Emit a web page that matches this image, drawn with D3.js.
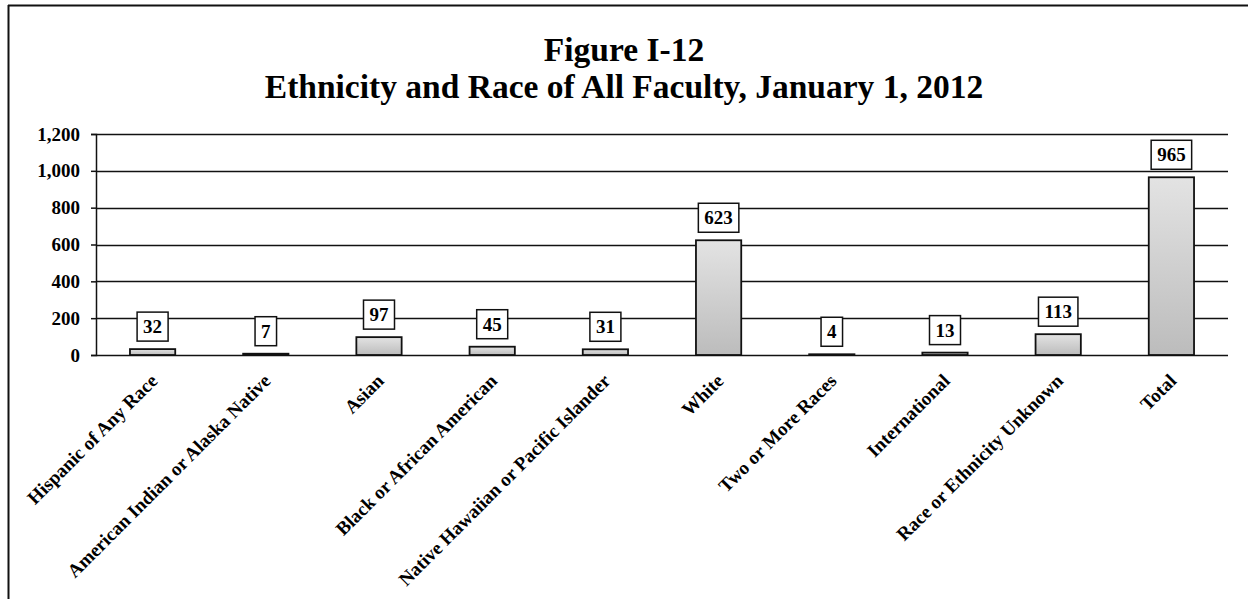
<!DOCTYPE html>
<html>
<head>
<meta charset="utf-8">
<script src="https://cdn.jsdelivr.net/npm/d3@7"></script>
<style>
  html, body { margin: 0; padding: 0; background: #fff; }
  svg { display: block; }
  text { font-family: "Liberation Serif", "Times New Roman", serif; font-weight: bold; fill: #000; }
</style>
</head>
<body>
<svg id="chart" width="1248" height="599"></svg>
<script>
const categories = [
  "Hispanic of Any Race",
  "American Indian or Alaska Native",
  "Asian",
  "Black or African American",
  "Native Hawaiian or Pacific Islander",
  "White",
  "Two or More Races",
  "International",
  "Race or Ethnicity Unknown",
  "Total"
];
const values = [32, 7, 97, 45, 31, 623, 4, 13, 113, 965];
const yTicks = [0, 200, 400, 600, 800, 1000, 1200];
const titleLines = ["Figure I-12", "Ethnicity and Race of All Faculty, January 1, 2012"];

const svg = d3.select("#chart");
const W = 1248, H = 599;
const plot = { left: 96, right: 1228, top: 134, bottom: 355 };

// frame (top and left only visible)
svg.append("line").attr("x1", 8).attr("x2", W).attr("y1", 5.5).attr("y2", 5.5)
  .attr("stroke", "#111").attr("stroke-width", 2);
svg.append("line").attr("x1", 8.5).attr("x2", 8.5).attr("y1", 5).attr("y2", H)
  .attr("stroke", "#111").attr("stroke-width", 2);

// title
svg.append("text").attr("x", 624).attr("y", 61).attr("text-anchor", "middle")
  .style("font-size", "33.5px").text(titleLines[0]);
svg.append("text").attr("x", 624).attr("y", 98).attr("text-anchor", "middle")
  .style("font-size", "33.5px").text(titleLines[1]);

const x = d3.scaleBand().domain(categories).range([plot.left, plot.right]).paddingInner(0.6).paddingOuter(0.3);
const y = d3.scaleLinear().domain([0, 1200]).range([plot.bottom, plot.top]);

// gradient
const defs = svg.append("defs");
const grad = defs.append("linearGradient").attr("id", "barGrad")
  .attr("x1", 0).attr("y1", 0).attr("x2", 0).attr("y2", 1);
grad.append("stop").attr("offset", "0%").attr("stop-color", "#e3e3e3");
grad.append("stop").attr("offset", "100%").attr("stop-color", "#bcbcbc");

// gridlines
svg.append("g").selectAll("line").data(yTicks).join("line")
  .attr("x1", plot.left).attr("x2", plot.right)
  .attr("y1", d => Math.round(y(d)) + 0.5).attr("y2", d => Math.round(y(d)) + 0.5)
  .attr("stroke", "#111").attr("stroke-width", 1.5);

// y axis
const yAxis = d3.axisLeft(y).tickValues(yTicks).tickSize(5).tickPadding(11)
  .tickFormat(d3.format(","));
const gy = svg.append("g").attr("transform", `translate(${plot.left},0)`).call(yAxis);
gy.select(".domain").attr("stroke", "#111").attr("stroke-width", 1.5);
gy.selectAll(".tick line").attr("stroke", "#111").attr("stroke-width", 1.5);
gy.selectAll(".tick text").style("font-size", "19px")
  .style("font-family", "Liberation Serif, serif").style("font-weight", "bold").attr("fill", "#000");

// bars
svg.append("g").selectAll("rect").data(values).join("rect")
  .attr("x", (d, i) => x(categories[i]))
  .attr("width", x.bandwidth())
  .attr("y", d => y(d))
  .attr("height", d => y(0) - y(d))
  .attr("fill", "url(#barGrad)")
  .attr("stroke", "#111").attr("stroke-width", 1.8);

// data labels
const lab = svg.append("g").selectAll("g").data(values).join("g")
  .attr("transform", (d, i) => `translate(${x(categories[i]) + x.bandwidth() / 2},${y(d) - 8})`);
lab.append("rect").attr("fill", "#fff").attr("stroke", "#111").attr("stroke-width", 1.5);
lab.append("text").attr("text-anchor", "middle").attr("y", -8)
  .style("font-size", "19px").text(d => d);
lab.each(function() {
  const g = d3.select(this);
  const w = g.select("text").node().getComputedTextLength() + 12;
  g.select("rect").attr("x", -w / 2).attr("y", -29).attr("width", w).attr("height", 29);
});

// x labels
svg.append("g").selectAll("text").data(categories).join("text")
  .attr("text-anchor", "end")
  .attr("transform", d => `translate(${x(d) + x.bandwidth() / 2 + 6},${plot.bottom + 27}) rotate(-45)`)
  .style("font-size", "19px")
  .text(d => d);
</script>
</body>
</html>
